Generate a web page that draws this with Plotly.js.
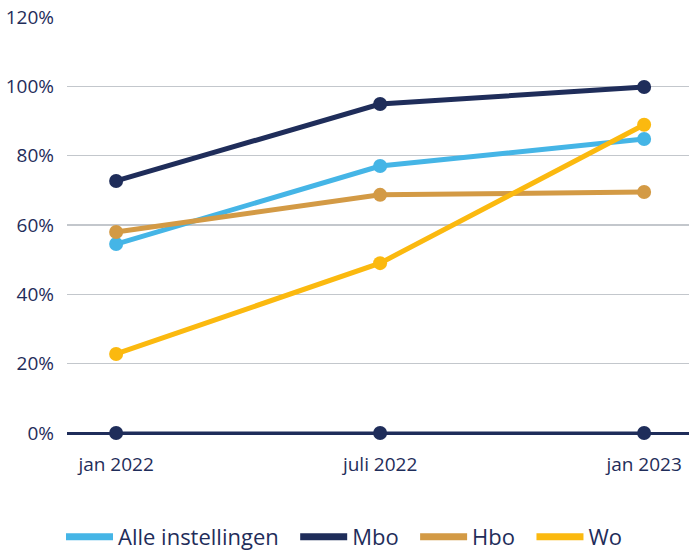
<!DOCTYPE html>
<html><head><meta charset="utf-8">
<script src="https://cdn.plot.ly/plotly-3.0.1.min.js"></script>
<style>html,body{margin:0;padding:0;background:#fff}#chart{width:689px;height:550px}</style>
</head><body><div id="chart"></div>
<script>
const categories = ["jan 2022", "juli 2022", "jan 2023"];
const alleInstellingen = [54.5, 77.0, 84.8];
const mbo = [72.7, 94.9, 99.8];
const hbo = [58.0, 68.7, 69.5];
const wo = [22.8, 49.0, 88.9];
const baseline = [0, 0, 0];
const yTicks = [0, 20, 40, 60, 80, 100, 120];
const yTickLabels = ["0%", "20%", "40%", "60%", "80%", "100%", "120%"];
const seriesNames = ["Alle instellingen", "Mbo", "Hbo", "Wo"];

const navy = "#1f2d5a";
const seriesValues = [alleInstellingen, mbo, hbo, wo];
const seriesColors = ["#45b5e6", navy, "#d39a45", "#fbb90f"];
const pad = "\u00a0\u00a0";

const data = [{type: "scatter", mode: "lines+markers", x: categories, y: baseline,
  line: {color: navy, width: 3}, marker: {color: navy, size: 14}, showlegend: false,
  cliponaxis: false, hoverinfo: "skip"}];
seriesValues.forEach((v, i) => data.push({type: "scatter", mode: "lines+markers", x: categories, y: v,
  line: {color: seriesColors[i], width: 5}, marker: {color: seriesColors[i], size: 14}, showlegend: false,
  cliponaxis: false, hoverinfo: "skip"}));
seriesNames.forEach((n, i) => data.push({type: "scatter", mode: "lines", x: [null], y: [null],
  name: n + (i < seriesNames.length - 1 ? pad : ""),
  line: {color: seriesColors[i], width: 7}, showlegend: true, hoverinfo: "skip"}));

const layout = {
  width: 689, height: 550,
  margin: {l: 67, r: 0, t: 17, b: 117, autoexpand: false},
  paper_bgcolor: "#fff", plot_bgcolor: "#fff",
  font: {family: "Open Sans, sans-serif", color: navy},
  xaxis: {type: "category", range: [-0.186, 2.17], showgrid: false, zeroline: false,
    showline: false, ticks: "", tickfont: {size: 19, color: navy}, ticklabelstandoff: 18},
  yaxis: {range: [0, 120], tickvals: yTicks, ticktext: yTickLabels, showgrid: true,
    gridcolor: "#c3c7cc", gridwidth: 1.5, zeroline: true, zerolinecolor: navy, zerolinewidth: 3,
    showline: false, ticks: "", tickfont: {size: 19, color: navy}, ticklabelstandoff: 12},
  showlegend: true,
  legend: {orientation: "h", xref: "container", yref: "paper", x: 0.5, xanchor: "center",
    y: -0.25, yanchor: "middle", font: {size: 22, color: navy}, itemwidth: 47}
};
Plotly.newPlot("chart", data, layout, {displayModeBar: false, staticPlot: true});
</script></body></html>
